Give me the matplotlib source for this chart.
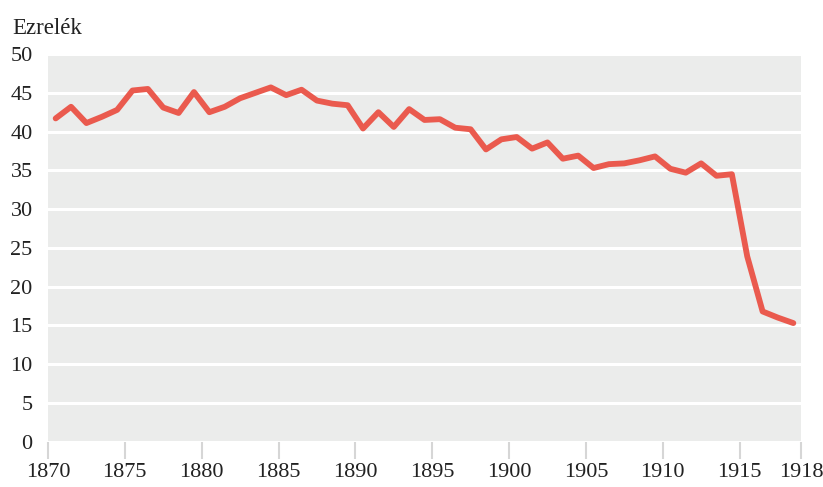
import matplotlib.pyplot as plt

years = list(range(1870, 1919))
rate = [
    41.7, 43.2, 41.1, 41.9, 42.8, 45.3, 45.5, 43.1, 42.4, 45.1,
    42.5, 43.2, 44.3, 45.0, 45.7, 44.7, 45.4, 44.0, 43.6, 43.4,
    40.4, 42.5, 40.6, 42.9, 41.5, 41.6, 40.5, 40.3, 37.7, 39.0,
    39.3, 37.8, 38.6, 36.5, 36.9, 35.3, 35.8, 35.9, 36.3, 36.8,
    35.2, 34.7, 35.9, 34.3, 34.5, 23.9, 16.8, 16.0, 15.3,
]
xtick_pos = [1870, 1875, 1880, 1885, 1890, 1895, 1900, 1905, 1910, 1915, 1919]
xtick_labels = ["1870", "1875", "1880", "1885", "1890", "1895", "1900",
                "1905", "1910", "1915", "1918"]
yticks = list(range(0, 51, 5))

plt.rcParams["font.family"] = ["Liberation Serif", "DejaVu Serif"]

fig = plt.figure(figsize=(8.23, 4.87), dpi=100)
ax = fig.add_axes([0.0583, 0.093, 0.915, 0.796])
ax.set_facecolor("#ebeceb")

# plot each year at its midpoint
ax.plot([y + 0.5 for y in years], rate, color="#ea5a4e", lw=4.2,
        solid_capstyle="round", solid_joinstyle="round", zorder=3)

ax.set_xlim(1870, 1919)
ax.set_ylim(0, 50)
ax.set_yticks(yticks)
ax.set_xticks(xtick_pos)
ax.set_xticklabels(xtick_labels)
ax.grid(axis="y", color="white", lw=2.2)
ax.set_axisbelow(True)

for s in ax.spines.values():
    s.set_visible(False)

ax.tick_params(axis="y", length=0, pad=11, labelsize=16, labelcolor="#222222")
ax.tick_params(axis="x", length=12, width=1.5, color="#d6d6d6", pad=3,
               labelsize=16, labelcolor="#222222")

fig.text(0.0146, 0.93, "Ezrelék", fontsize=16.5, color="#222222")

fig.savefig("out.png", dpi=100)
